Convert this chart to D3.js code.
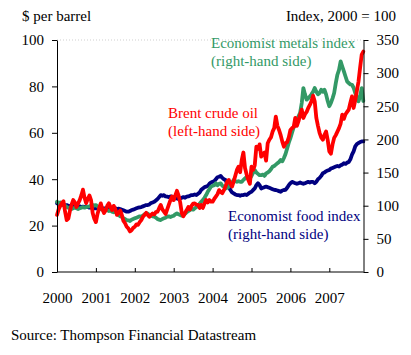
<!DOCTYPE html>
<html>
<head>
<meta charset="utf-8">
<script src="https://cdn.jsdelivr.net/npm/d3@7/dist/d3.min.js"></script>
<style>
  html, body { margin: 0; padding: 0; background: #fff; }
  svg { display: block; }
  text { font-family: "Liberation Serif", "Times New Roman", serif; }
</style>
</head>
<body>
<svg id="chart" width="411" height="355"></svg>
<script>
// Semi-monthly observations, Jan 2000 – Nov 2007
const startYear = 2000;
const stepYears = 1 / 24;

// Brent crude oil, $ per barrel (left-hand scale)
const brent = [
  24.6, 27, 28.5, 29.7, 30.5, 26, 22.4, 23, 26.5, 29, 31, 30,
  28, 29.5, 31, 33, 35.5, 32, 29.7, 31.5, 33, 31, 25.4, 23,
  21.5, 25, 27.5, 29.6, 27, 25.4, 26.5, 28.5, 29.6, 28, 26.7, 28.5,
  27, 24.6, 25.5, 26.5, 24.6, 22, 21, 19.5, 18.8, 17.5, 18, 19,
  19.5, 20.5, 20.3, 21.5, 22.4, 23.8, 24.6, 25.5, 24.6, 23.8, 24.6, 25.2,
  24.8, 25.8, 26, 27.5, 28.9, 27, 26, 25, 27, 29, 31, 32.5,
  31, 33, 35, 33, 30, 25.4, 24, 25.5, 26.7, 28, 27, 28.5,
  29.5, 29.6, 29, 28.9, 27.6, 28.9, 27.6, 29.5, 31, 30, 31, 30.3,
  30.3, 31.5, 32.5, 33.5, 35.3, 34.5, 34, 35.3, 37, 39, 39.7, 38,
  36.8, 39, 41.5, 44, 45.4, 43, 48.3, 51.5, 44.8, 42, 39.7, 38,
  45.4, 44, 46, 54, 53, 55, 49.7, 51, 51.5, 48, 55.5, 57,
  58, 60.5, 62, 67, 63, 61.2, 59, 56.2, 54, 55.5, 56, 58,
  61.2, 62, 62.5, 66.4, 63, 65, 67.8, 70, 66.4, 68, 69, 70.7,
  72, 73.6, 76, 73.6, 66.4, 63, 60, 58, 57, 59, 60.6, 57,
  52, 51, 55, 57.8, 59, 60.5, 62, 64, 67.8, 66, 68, 69,
  70, 73, 75.7, 70.7, 74, 78, 82, 88, 93.7, 95
];

// Economist metals index, 2000 = 100 (right-hand scale)
const metals = [
  106, 104, 105, 103.6, 102, 100, 98, 97, 96, 95, 96, 97,
  96, 95, 96, 97, 98, 97, 98, 98.5, 99, 100, 101, 100,
  101, 99, 97, 95, 94, 93.5, 95, 93, 92, 93, 91, 90,
  91, 88, 86, 84, 83.4, 81, 80, 78.4, 78, 77, 79, 80,
  81, 82, 83, 84, 83.4, 85, 87, 88.5, 88, 86, 85, 84,
  83.4, 82, 80, 79, 78.4, 80, 81, 82, 83.4, 84, 83, 84,
  85, 87, 88.5, 87, 86, 85, 86, 88, 90, 92, 93.5, 95,
  94, 96, 98, 100, 103, 106, 108.6, 112, 116, 121, 125, 128.7,
  130, 131, 133.8, 131, 133, 133.8, 130, 128.7, 126, 127, 128.7, 132,
  135, 138.8, 137, 136, 137, 136, 136, 139, 141, 143.7, 142, 141,
  145, 150, 153.8, 150, 148, 146, 146, 147, 145, 148.8, 150, 152,
  155, 158.8, 160, 162, 164, 166, 169, 167, 172, 178, 186.5, 195,
  202, 210, 218, 222, 230, 235, 240, 255, 277.5, 268, 260, 262,
  265, 268, 272, 277.5, 272, 268, 270, 275, 272, 275, 268, 258,
  250, 255, 262, 270, 285, 297.6, 305, 317.8, 310, 302.7, 295, 287.6,
  285, 283, 282.5, 278, 270, 264, 257.5, 265, 277.5, 258
];

// Economist food index, 2000 = 100 (right-hand scale)
const food = [
  103.6, 103, 102, 102, 101, 101, 101, 100, 99, 100, 99, 98.5,
  98.5, 98, 99, 98, 98.5, 98, 98.5, 98, 97, 97, 96.5, 96,
  96, 96.5, 96, 95.5, 96, 96, 96, 96.5, 96, 95.5, 96, 96,
  96, 95, 95.5, 95, 94, 93, 92, 91, 91, 92, 93.5, 94,
  95, 96, 97, 97.5, 98, 99, 100, 101, 101, 102, 104, 105,
  106, 108, 110, 113, 116, 115, 116, 114, 113.6, 113, 114, 113.6,
  112, 111, 111, 110, 111, 112, 113, 112, 113.6, 114, 115, 116,
  116, 117, 116, 118, 120, 124, 126, 128, 128.7, 130, 133, 135,
  136, 137, 140, 143, 143.7, 145, 142, 140, 138.8, 133, 128, 123.7,
  120, 118.6, 117, 116, 116, 115, 116, 116, 117, 116, 118, 120,
  121, 123.7, 126, 131, 134, 131, 126, 127, 128, 128.7, 128, 127,
  126, 125, 124, 123.7, 123, 122, 121, 123, 123.7, 124, 127, 131,
  134, 136, 135, 134, 133, 134, 135, 134, 133, 134, 135, 136,
  135, 136, 136, 134, 136, 140, 142, 145, 149, 150, 152, 153,
  154, 156, 157, 158, 159, 160, 159, 161, 162, 164, 163, 165,
  166, 170, 177, 182, 189.6, 193, 194.6, 196, 197, 197
];

const yearTicks = [2000, 2001, 2002, 2003, 2004, 2005, 2006, 2007];
const leftTicks = [0, 20, 40, 60, 80, 100];
const rightTicks = [0, 50, 100, 150, 200, 250, 300, 350];

(function () {
const svg = d3.select("#chart");
const pL = 57, pR = 363.5, pT = 40, pB = 272;

const x = d3.scaleLinear().domain([2000, 2008]).range([pL, pL + 8 * 38.9]);
const yL = d3.scaleLinear().domain([0, 100]).range([pB, pT]);
const yR = d3.scaleLinear().domain([0, 350]).range([pB, pT]);

const tAt = i => startYear + i * stepYears;

// top dotted gridline
svg.append("line")
  .attr("x1", pL).attr("x2", pR)
  .attr("y1", yL(100)).attr("y2", yL(100))
  .attr("stroke", "#cfcfcf").attr("stroke-width", 1)
  .attr("stroke-dasharray", "1,2");

// series
function drawLine(values, yScale, color) {
  const line = d3.line()
    .x((d, i) => x(tAt(i)))
    .y(d => yScale(d))
    .curve(d3.curveLinear);
  svg.append("path")
    .datum(values)
    .attr("fill", "none")
    .attr("stroke", color)
    .attr("stroke-width", 3.8)
    .attr("stroke-linejoin", "round")
    .attr("stroke-linecap", "round")
    .attr("d", line);
}
drawLine(food, yR, "#000080");
drawLine(metals, yR, "#339966");
drawLine(brent, yL, "#ff0000");

// axes
const fontSize = 15;
const gL = svg.append("g").attr("transform", `translate(${pL},0)`)
  .call(d3.axisLeft(yL).tickValues(leftTicks).tickSize(5).tickPadding(8).tickSizeOuter(0));
const gR = svg.append("g").attr("transform", `translate(${pR},0)`)
  .call(d3.axisRight(yR).tickValues(rightTicks).tickSize(5).tickPadding(8).tickSizeOuter(0));
const gB = svg.append("g").attr("transform", `translate(0,${pB})`)
  .call(d3.axisBottom(x).tickValues(yearTicks).tickFormat(d3.format("d")).tickSize(-4).tickPadding(20).tickSizeOuter(0));
gB.select(".domain").remove();
svg.append("line").attr("x1", pL).attr("x2", pR).attr("y1", pB).attr("y2", pB)
  .attr("stroke", "#000").attr("stroke-width", 1);

[gL, gR, gB].forEach(g => {
  g.selectAll("text").attr("font-size", fontSize).attr("fill", "#000")
    .attr("font-family", "Liberation Serif, Times New Roman, serif");
  g.selectAll("line").attr("stroke", "#000");
  g.selectAll(".domain").attr("stroke", "#000");
});

// titles
svg.append("text").attr("x", 22).attr("y", 21).attr("font-size", fontSize).text("$ per barrel");
svg.append("text").attr("x", 396).attr("y", 21).attr("font-size", fontSize)
  .attr("text-anchor", "end").text("Index, 2000 = 100");

// annotations
const notes = [
  { x: 211, y: 48, color: "#339966", lines: ["Economist metals index", "(right-hand side)"], gap: 18 },
  { x: 168, y: 118, color: "#ff0000", lines: ["Brent crude oil", "(left-hand side)"], gap: 18 },
  { x: 228, y: 221, color: "#000080", lines: ["Economist food index", "(right-hand side)"], gap: 18 }
];
notes.forEach(n => {
  n.lines.forEach((t, k) => {
    svg.append("text").attr("x", n.x).attr("y", n.y + k * n.gap)
      .attr("font-size", fontSize).attr("fill", n.color).text(t);
  });
});

// source
svg.append("text").attr("x", 11).attr("y", 340).attr("font-size", fontSize)
  .text("Source: Thompson Financial Datastream");
})();
</script>
</body>
</html>
